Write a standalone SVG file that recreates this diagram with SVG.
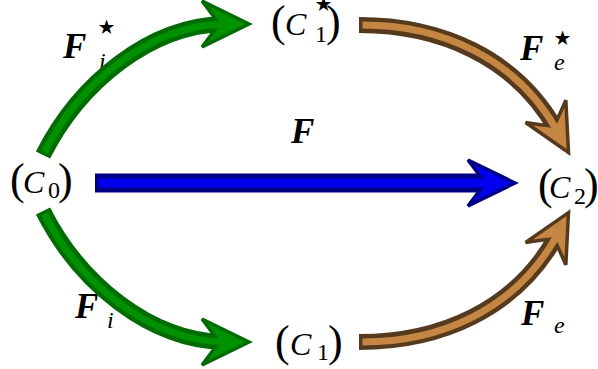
<svg xmlns="http://www.w3.org/2000/svg" xmlns:xlink="http://www.w3.org/1999/xlink" width="598" height="369" viewBox="0 0 598 369">
<style>
text{font-family:"Liberation Serif","DejaVu Serif",serif;fill:#000}
.par{font-size:44px}
.cal{font-size:32px;font-style:italic}
.nsub{font-size:24px}
.bf{font-size:35px;font-weight:bold;font-style:italic}
.sub{font-size:24px;font-style:italic}
.star{font-family:"DejaVu Sans",sans-serif;font-size:40px}
.o{fill:none;stroke-linecap:butt}
.gO{stroke:#006b00;stroke-width:16}
.gI{stroke:#009100;stroke-width:7}
.bO{stroke:#000085;stroke-width:19}
.bI{stroke:#0000ee;stroke-width:9}
.rO{stroke:#553a1e;stroke-width:16}
.rI{stroke:#c48642;stroke-width:7}
.gH{fill:#009100;stroke:#006b00;stroke-width:3.5}
.bH{fill:#0000ee;stroke:#000085;stroke-width:3.5}
.rH{fill:#c48642;stroke:#553a1e;stroke-width:3.5}
</style>
<defs>
<path id="head" d="M0,0 L-47,-23 Q-37,-10 -30,0 Q-37,10 -47,23 Z"/>
</defs>
<g id="labels">
<g id="lbl-Fi-star"><text><tspan class="bf" x="63" y="58">F</tspan><tspan class="star" x="94" y="40">⋆</tspan><tspan class="sub" x="99" y="69">i</tspan></text></g>
<g id="lbl-F"><text><tspan class="bf" x="291" y="143">F</tspan></text></g>
<g id="lbl-Fe-star"><text><tspan class="bf" x="520" y="60">F</tspan><tspan class="star" x="550" y="51">⋆</tspan><tspan class="sub" x="554" y="70">e</tspan></text></g>
<g id="lbl-Fi"><text><tspan class="bf" x="75" y="318">F</tspan><tspan class="sub" x="107" y="328">i</tspan></text></g>
<g id="lbl-Fe"><text><tspan class="bf" x="521" y="325">F</tspan><tspan class="sub" x="554" y="333">e</tspan></text></g>
</g>
<g id="connectors">
<g id="e-C0-C1star">
<path class="o gO" d="M43,155 C80,82 150,26 223,24"/>
<use xlink:href="#head" class="gH" transform="translate(249,24)"/>
<path class="o gI" d="M44.6,151.9 C80,82 150,26 223,24"/>
</g>
<g id="e-C0-C1">
<path class="o gO" d="M43,211 C80,284 150,340 223,342"/>
<use xlink:href="#head" class="gH" transform="translate(249,342)"/>
<path class="o gI" d="M44.6,214.1 C80,284 150,340 223,342"/>
</g>
<g id="e-C0-C2">
<path class="o bO" d="M95,183 H489"/>
<use xlink:href="#head" class="bH" transform="translate(515,183)"/>
<path class="o bI" d="M98.5,183 H489"/>
</g>
<g id="e-C1star-C2">
<path class="o rO" d="M359,25 C440,25 515,57 556,129"/>
<use xlink:href="#head" class="rH" transform="translate(568.5,152.4) rotate(61)"/>
<path class="o rI" d="M362.5,25 C440,25 515,57 556,129"/>
</g>
<g id="e-C1-C2">
<path class="o rO" d="M359,342 C440,342 515,310 556,237"/>
<use xlink:href="#head" class="rH" transform="translate(568.5,212.6) rotate(-61)"/>
<path class="o rI" d="M362.5,342 C440,342 515,310 556,237"/>
</g>
</g>
<g id="node-C0"><text><tspan class="par" x="10" y="194">(</tspan><tspan class="cal" x="23" y="193">C</tspan><tspan class="nsub" x="48" y="198">0</tspan><tspan class="par" x="58" y="194">)</tspan></text></g>
<g id="node-C1star"><text><tspan class="par" x="271" y="36">(</tspan><tspan class="cal" x="285" y="35">C</tspan><tspan class="star" x="311" y="17">⋆</tspan><tspan class="nsub" x="315" y="42">1</tspan><tspan class="par" x="326" y="36">)</tspan></text></g>
<g id="node-C1"><text><tspan class="par" x="275" y="356">(</tspan><tspan class="cal" x="290" y="355">C</tspan><tspan class="nsub" x="317" y="360">1</tspan><tspan class="par" x="328" y="356">)</tspan></text></g>
<g id="node-C2"><text><tspan class="par" x="538" y="199">(</tspan><tspan class="cal" x="549" y="198">C</tspan><tspan class="nsub" x="574" y="204">2</tspan><tspan class="par" x="584" y="199">)</tspan></text></g>
</svg>
